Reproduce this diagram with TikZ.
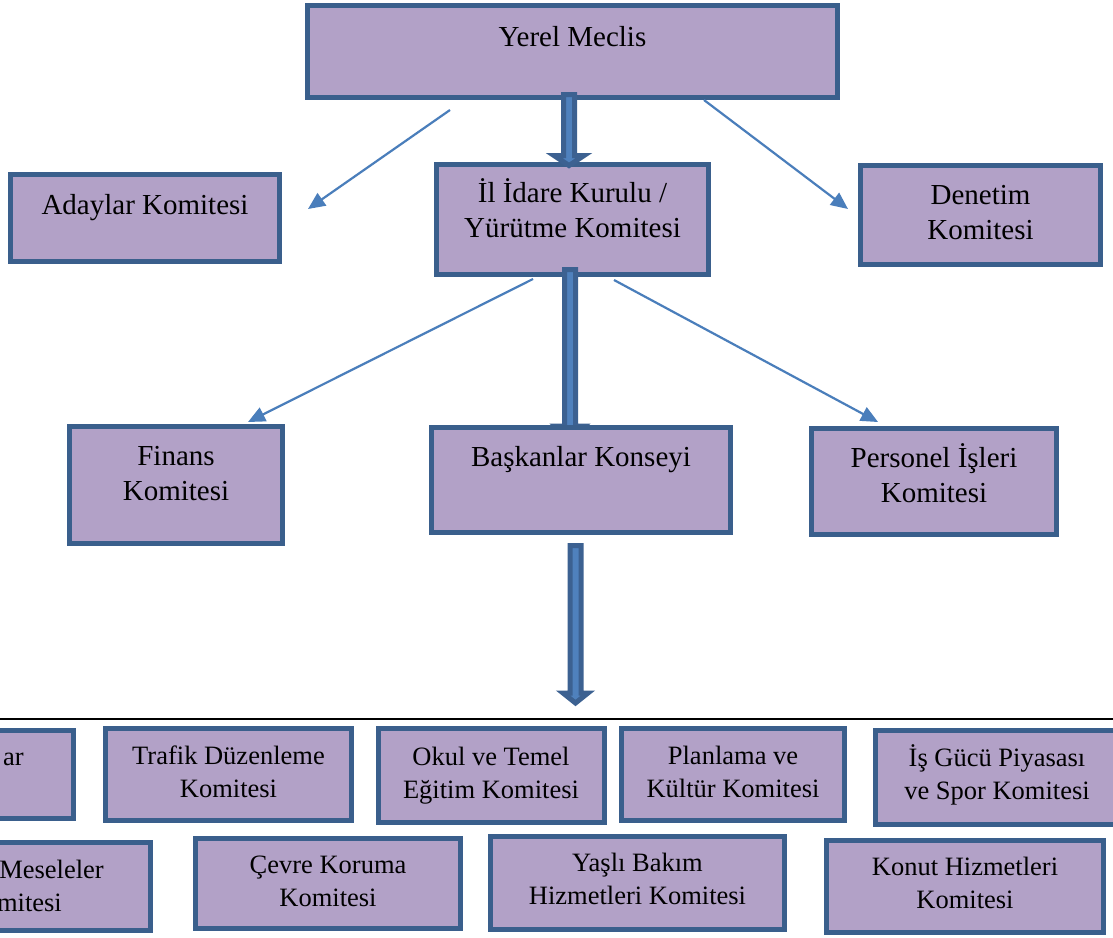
\documentclass[tikz,border=0pt]{standalone}
\usepackage{fontspec}
\setmainfont{Liberation Serif}
\usetikzlibrary{arrows.meta,calc}
\definecolor{boxfill}{HTML}{B2A1C7}
\definecolor{boxline}{HTML}{3A5F8C}
\definecolor{arrfill}{HTML}{4F81BD}
\definecolor{arrline}{HTML}{3C6191}
\definecolor{thinarr}{HTML}{4A7EBB}
\tikzset{
  orgbox/.style={draw=boxline,fill=boxfill,line width=5pt,inner sep=0pt,outer sep=0pt,
    minimum width=#1},
  ttop/.style={font=\fontsize{29}{35}\selectfont,align=center,inner sep=0pt,anchor=base},
  tbot/.style={font=\fontsize{26.5}{33}\selectfont,align=center,inner sep=0pt,anchor=base},
  thin/.style={draw=thinarr,line width=2.2pt,-{Triangle[length=17pt,width=15pt]}},
  blockarr/.style={draw=arrline,fill=arrfill,line width=5pt,line join=miter},
}
\newcommand\barrow[4]{%
  \draw[blockarr] let \p1=(#1), \p2=(#2) in
  (\x1-5.5pt,\y1) -- (\x1-5.5pt,\y2+#3) -- (\x1-#4,\y2+#3) -- (\x2,\y2)
  -- (\x1+#4,\y2+#3) -- (\x1+5.5pt,\y2+#3) -- (\x1+5.5pt,\y1) -- cycle;}
\begin{document}
\begin{tikzpicture}[x=1pt,y=-1pt]
\useasboundingbox (0,0) rectangle (1113,937);
\clip (0,0) rectangle (1113,937);
\fill[white] (0,0) rectangle (1113,937);

% top level (multi-line texts: y is the baseline of the last line)
\node[orgbox=530pt,minimum height=92pt] (ym) at (572.5,51.5) {};
\node[ttop] (ymt) at (572.5,46) {Yerel Meclis};

\node[orgbox=269pt,minimum height=87pt] (ad) at (145,218) {};
\node[ttop] (adt) at (145,214.5) {Adaylar Komitesi};

\node[orgbox=272pt,minimum height=110pt] (il) at (572.5,219.5) {};
\node[ttop] (ilt) at (572.5,237) {İl İdare Kurulu /\\Yürütme Komitesi};

\node[orgbox=240pt,minimum height=99pt] (de) at (980.5,215) {};
\node[ttop] (det) at (980.5,239.5) {Denetim\\Komitesi};

\node[orgbox=213pt,minimum height=117pt] (fi) at (176,485) {};
\node[ttop] (fit) at (176,500.5) {Finans\\Komitesi};

% middle block arrow (behind Baskanlar box)
\coordinate (m1s) at (570,269.5);
\coordinate (m1e) at (570,440);
\barrow{m1s}{m1e}{14pt}{14.5pt}

\node[orgbox=299pt,minimum height=105pt] (bk) at (581,480) {};
\node[ttop] (bkt) at (581,466.5) {Başkanlar Konseyi};

\node[orgbox=245pt,minimum height=106pt] (pe) at (934,481.5) {};
\node[ttop] (pet) at (934,502.5) {Personel İşleri\\Komitesi};

% top block arrow
\coordinate (t1s) at (569,94.5);
\coordinate (t1e) at (569,165.5);
\barrow{t1s}{t1e}{10pt}{15pt}

% bottom block arrow
\coordinate (b1s) at (575.5,545.5);
\coordinate (b1e) at (575.5,703);
\barrow{b1s}{b1e}{10pt}{12.5pt}

% thin arrows
\coordinate (a1s) at (450,110);
\coordinate (a1e) at (308,209);
\coordinate (a2s) at (704,100);
\coordinate (a2e) at (848,209);
\coordinate (a3s) at (533,279);
\coordinate (a3e) at (248,422);
\coordinate (a4s) at (614,280);
\coordinate (a4e) at (878,422);
\draw[thin] (a1s) -- (a1e);
\draw[thin] (a2s) -- (a2e);
\draw[thin] (a3s) -- (a3e);
\draw[thin] (a4s) -- (a4e);

% separator line
\coordinate (sepl) at (0,719);
\coordinate (sepr) at (1113,719);
\draw[black,line width=2.8pt] (sepl) -- (sepr);

% bottom row 1
\node[orgbox=91pt,minimum height=88pt] (ua) at (28,774.5) {};
\node[tbot,anchor=base east] (uat) at (24,765) {ar};

\node[orgbox=246pt,minimum height=92pt] (tr) at (228.5,774.5) {};
\node[tbot] (trt) at (228.5,797) {Trafik Düzenleme\\Komitesi};

\node[orgbox=226pt,minimum height=94pt] (ok) at (491.5,775.5) {};
\node[tbot] (okt) at (491,798) {Okul ve Temel\\Eğitim Komitesi};

\node[orgbox=223pt,minimum height=92pt] (pl) at (733,774.5) {};
\node[tbot] (plt) at (733,797) {Planlama ve\\Kültür Komitesi};

\node[orgbox=243pt,minimum height=94pt] (is) at (997,777.5) {};
\node[tbot] (ist) at (997,799) {İş Gücü Piyasası\\ve Spor Komitesi};

% bottom row 2
\node[orgbox=168pt,minimum height=88pt] (me) at (66.5,886.5) {};
\node[tbot,anchor=base east] (met1) at (104,878) {Meseleler};
\node[tbot,anchor=base east] (met2) at (62,911) {mitesi};

\node[orgbox=265pt,minimum height=90pt] (ce) at (328,883.5) {};
\node[tbot] (cet) at (328,906) {Çevre Koruma\\Komitesi};

\node[orgbox=294pt,minimum height=93pt] (ya) at (637.5,883) {};
\node[tbot] (yat) at (637.5,904) {Yaşlı Bakım\\Hizmetleri Komitesi};

\node[orgbox=277pt,minimum height=92pt] (ko) at (965,886.5) {};
\node[tbot] (kot) at (965,908) {Konut Hizmetleri\\Komitesi};
\end{tikzpicture}
\end{document}
